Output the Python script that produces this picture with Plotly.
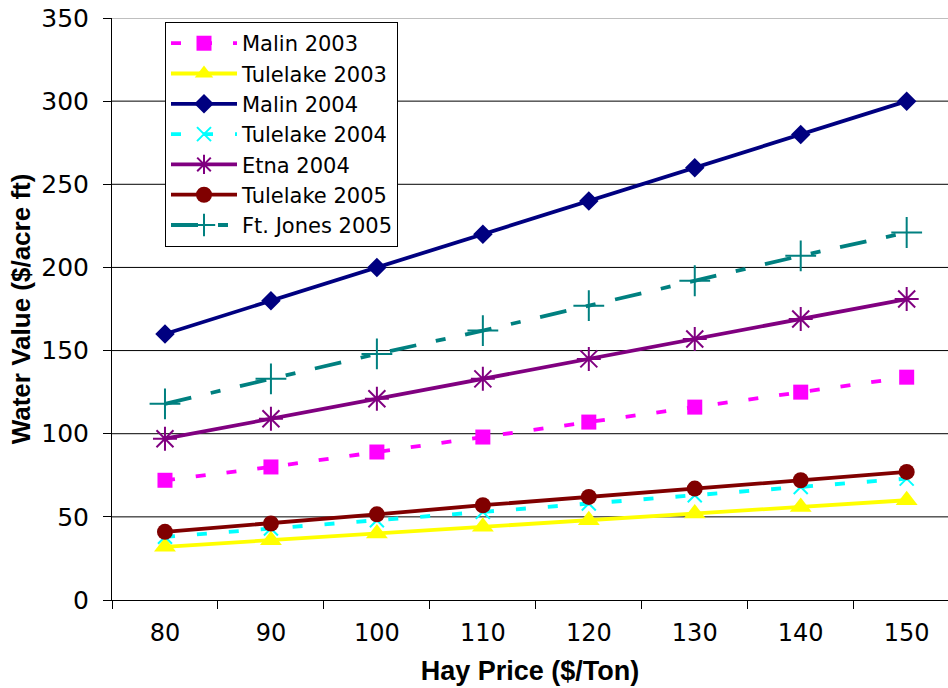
import plotly.graph_objects as go

hay_price = ["80", "90", "100", "110", "120", "130", "140", "150"]

malin_2003 = [72, 80, 89, 98, 107, 116, 125, 134]
tulelake_2003 = [32, 36, 40, 44, 48, 52, 56, 60]
malin_2004 = [160, 180, 200, 220, 240, 260, 280, 300]
tulelake_2004 = [38, 43, 48, 53, 58, 63, 68, 73]
etna_2004 = [97, 109, 121, 133, 145, 157, 169, 181]
tulelake_2005 = [41, 46, 51.5, 57, 62, 67, 72, 77]
ft_jones_2005 = [118, 133, 148, 162, 177, 192, 207, 221]

y_ticks = [0, 50, 100, 150, 200, 250, 300, 350]

FONT = "DejaVu Sans, Liberation Sans, Arial, sans-serif"
TFONT = "Liberation Sans, Arial, sans-serif"

series = [
    ("Malin 2003", malin_2003, "#FF00FF", "10px,21px", dict(symbol="square", size=15, color="#FF00FF")),
    ("Tulelake 2003", tulelake_2003, "#FFFF00", "solid", dict(symbol="triangle-up", size=19, color="#FFFF00")),
    ("Malin 2004", malin_2004, "#000080", "solid", dict(symbol="diamond", size=15, color="#000080")),
    ("Tulelake 2004", tulelake_2004, "#00FFFF", "10px,22px",
     dict(symbol="x-thin-open", size=14, color="#00FFFF", line=dict(color="#00FFFF", width=2))),
    ("Etna 2004", etna_2004, "#800080", "solid",
     dict(symbol="asterisk-open", size=20, color="#800080", line=dict(color="#800080", width=2))),
    ("Tulelake 2005", tulelake_2005, "#800000", "solid", dict(symbol="circle", size=16, color="#800000")),
    ("Ft. Jones 2005", ft_jones_2005, "#008080", "27px,20px,10px,20px",
     dict(symbol="cross-thin-open", size=22, color="#008080", line=dict(color="#008080", width=2))),
]

fig = go.Figure()
for name, vals, color, dash, marker in series:
    fig.add_trace(go.Scatter(
        x=hay_price, y=vals, name=name, mode="lines+markers",
        line=dict(color=color, width=3.8, dash=dash),
        marker=marker,
    ))

shapes = []
for v in y_ticks[1:]:
    shapes.append(dict(type="line", xref="paper", x0=0, x1=1, yref="y", y0=v, y1=v,
                       line=dict(color="#808080" if v == 350 else "#000000", width=1),
                       layer="below"))

fig.update_layout(
    width=948, height=688,
    margin=dict(l=112, r=0, t=18, b=88),
    paper_bgcolor="white", plot_bgcolor="white",
    font=dict(family=FONT, color="black"),
    shapes=shapes,
    showlegend=True,
    legend=dict(
        x=0.0634, y=0.993, xanchor="left", yanchor="top",
        bgcolor="white", bordercolor="black", borderwidth=1,
        font=dict(size=21, family=FONT, color="black"),
        itemwidth=66, tracegroupgap=0,
    ),
    xaxis=dict(
        type="category", range=[-0.5, 7.39], automargin=False,
        tickson="boundaries", ticks="outside", ticklen=8, tickcolor="black",
        showline=True, linecolor="black", linewidth=1,
        showgrid=False, zeroline=False,
        tickfont=dict(size=24, family=FONT),
        ticklabelstandoff=11,
        title=dict(text="<b>Hay Price ($/Ton)</b>", font=dict(size=27, family=TFONT), standoff=15),
    ),
    yaxis=dict(
        range=[0, 350], tickvals=y_ticks, automargin=False,
        ticks="outside", ticklen=8, tickcolor="black",
        showline=True, linecolor="black", linewidth=1,
        showgrid=False, zeroline=False,
        tickfont=dict(size=25, family=FONT),
        ticklabelstandoff=9, ticklabeloverflow="allow",
        title=dict(text="<b>Water Value ($/acre ft)</b>", font=dict(size=26, family=TFONT), standoff=3),
    ),
)

fig.write_html("out.html", config={"displayModeBar": False},
               post_script="document.body.style.margin='0';")
